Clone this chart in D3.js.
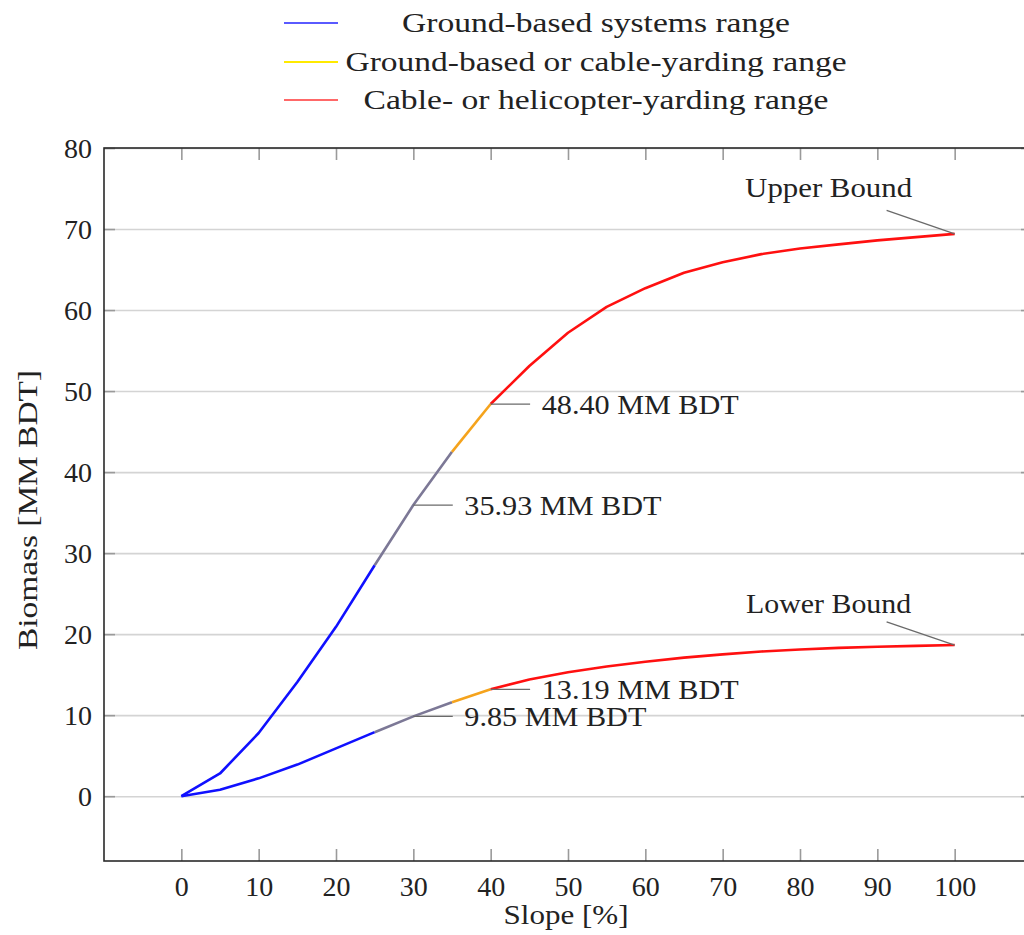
<!DOCTYPE html>
<html>
<head>
<meta charset="utf-8">
<script src="https://cdn.jsdelivr.net/npm/d3@7"></script>
<style>
  html, body { margin: 0; padding: 0; background: #fff; }
  svg { display: block; }
  svg text { font-family: "Liberation Serif", "Times New Roman", Tinos, "DejaVu Serif", "Noto Serif", serif !important; fill: #222; }
</style>
</head>
<body>
<svg id="chart" width="1024" height="935"></svg>
<script>
// ---------------- data ----------------
const slope = [0, 5, 10, 15, 20, 25, 30, 35, 40, 45, 50, 55, 60, 65, 70, 75, 80, 85, 90, 95, 100];
const upperBiomass = [0, 2.8, 7.8, 14.1, 20.9, 28.5, 35.93, 42.5, 48.40, 53.1, 57.2, 60.4, 62.7, 64.6, 65.9, 66.9, 67.6, 68.1, 68.6, 69.0, 69.4];
const lowerBiomass = [0, 0.8, 2.2, 3.9, 5.9, 7.9, 9.85, 11.6, 13.19, 14.4, 15.3, 16.0, 16.6, 17.1, 17.5, 17.85, 18.1, 18.3, 18.45, 18.55, 18.65];
const rangeBreaks = [0, 25, 35, 40, 100];           // slope boundaries of colored segments
const legendLabels = ["Ground-based systems range", "Ground-based or cable-yarding range", "Cable- or helicopter-yarding range"];
const annotatedSlopes = [30, 40];
const boundLabels = ["Upper Bound", "Lower Bound"];
const xTicks = [0, 10, 20, 30, 40, 50, 60, 70, 80, 90, 100];
const yTicks = [0, 10, 20, 30, 40, 50, 60, 70, 80];
const xLabel = "Slope [%]";
const yLabel = "Biomass [MM BDT]";

// ---------------- layout ----------------
const svg = d3.select("#chart");
const pLeft = 104, pTop = 148, pRight = 1032, pBottom = 861;
const x = d3.scaleLinear().domain([-10, 110]).range([pLeft, pRight]);
const y = d3.scaleLinear().domain([-8, 80]).range([pBottom, pTop]);
const FS = 28;

const segColors = ["#1010ff", "#7c7896", "#f5a31c", "#ff1010"];
const legendColors = ["#5a5aff", "#ffea00", "#ff6868"];

// grid
svg.append("g")
  .attr("transform", `translate(${pLeft},0)`)
  .call(d3.axisLeft(y).tickValues(yTicks).tickSize(-(pRight - pLeft)).tickFormat(""))
  .call(g => g.select(".domain").remove())
  .call(g => g.selectAll("line").attr("stroke", "#d4d4d4").attr("stroke-width", 1.6));

// ticks: left (with labels)
svg.append("g")
  .attr("transform", `translate(${pLeft},0)`)
  .attr("font-family", null)
  .call(d3.axisLeft(y).tickValues(yTicks).tickSize(-11).tickPadding(12).tickFormat(d3.format("d")))
  .call(g => g.select(".domain").remove())
  .call(g => g.selectAll("line").attr("stroke", "#9a9a9a").attr("stroke-width", 1.6))
  .call(g => g.selectAll("text").attr("font-size", FS).attr("fill", "#222").attr("dy", "0.34em"));

// right ticks
svg.append("g")
  .attr("transform", `translate(${pRight},0)`)
  .call(d3.axisRight(y).tickValues(yTicks).tickSize(-11).tickFormat(""))
  .call(g => g.select(".domain").remove())
  .call(g => g.selectAll("line").attr("stroke", "#9a9a9a").attr("stroke-width", 1.6));

// bottom ticks with labels
svg.append("g")
  .attr("transform", `translate(0,${pBottom})`)
  .call(d3.axisBottom(x).tickValues(xTicks).tickSize(-12).tickPadding(15).tickFormat(d3.format("d")))
  .call(g => g.select(".domain").remove())
  .call(g => g.selectAll("line").attr("stroke", "#9a9a9a").attr("stroke-width", 1.6))
  .call(g => g.selectAll("text").attr("font-size", FS).attr("fill", "#222"));

// top ticks
svg.append("g")
  .attr("transform", `translate(0,${pTop})`)
  .call(d3.axisTop(x).tickValues(xTicks).tickSize(-12).tickFormat(""))
  .call(g => g.select(".domain").remove())
  .call(g => g.selectAll("line").attr("stroke", "#9a9a9a").attr("stroke-width", 1.6));

// frame
svg.append("rect")
  .attr("x", pLeft).attr("y", pTop).attr("width", pRight - pLeft).attr("height", pBottom - pTop)
  .attr("fill", "none").attr("stroke", "#2a2a2a").attr("stroke-width", 1.6);

// axis labels
svg.append("text").attr("x", 566).attr("y", 924)
  .attr("text-anchor", "middle").attr("font-size", FS)
  .attr("textLength", 125).attr("lengthAdjust", "spacingAndGlyphs").text(xLabel);
svg.append("text")
  .attr("transform", `translate(37,510) rotate(-90)`)
  .attr("text-anchor", "middle").attr("font-size", FS)
  .attr("textLength", 280).attr("lengthAdjust", "spacingAndGlyphs").text(yLabel);

// ---------------- curves ----------------
const line = d3.line().x(d => x(d[0])).y(d => y(d[1]));
const curves = [upperBiomass, lowerBiomass];
const plot = svg.append("g");
curves.forEach(vals => {
  const pts = slope.map((s, i) => [s, vals[i]]);
  for (let k = 0; k < rangeBreaks.length - 1; k++) {
    const a = rangeBreaks[k], b = rangeBreaks[k + 1];
    const seg = pts.filter(p => p[0] >= a && p[0] <= b);
    plot.append("path").datum(seg)
      .attr("d", line)
      .attr("fill", "none")
      .attr("stroke", segColors[k])
      .attr("stroke-width", 2.6)
      .attr("stroke-linejoin", "round")
      .attr("stroke-linecap", "butt");
  }
});

// ---------------- annotations ----------------
const fmt = d3.format(".2f");
curves.forEach((vals, ci) => {
  annotatedSlopes.forEach((s, ai) => {
    const v = vals[slope.indexOf(s)];
    const px = x(s), py = y(v);
    svg.append("line")
      .attr("x1", px).attr("y1", py).attr("x2", x(s + 5.1)).attr("y2", py)
      .attr("stroke", "#6a6a6a").attr("stroke-width", 1.3);
    svg.append("text")
      .attr("x", x(s + 6.6)).attr("y", py).attr("dy", "0.36em")
      .attr("font-size", FS)
      .attr("textLength", ci === 1 && ai === 0 ? 182 : 197).attr("lengthAdjust", "spacingAndGlyphs")
      .text(`${fmt(v)} MM BDT`);
  });
});

// bound labels
const endIdx = slope.length - 1;
const boundOffsets = [[72.3, 75.2], [21.5, 23.8]];
curves.forEach((vals, ci) => {
  const ex = x(slope[endIdx]), ey = y(vals[endIdx]);
  svg.append("line")
    .attr("x1", x(91.2)).attr("y1", y(boundOffsets[ci][0]))
    .attr("x2", ex).attr("y2", ey)
    .attr("stroke", "#6a6a6a").attr("stroke-width", 1.3);
  svg.append("text")
    .attr("x", x(83.7)).attr("y", y(boundOffsets[ci][1])).attr("dy", "0.36em")
    .attr("text-anchor", "middle").attr("font-size", FS)
    .attr("textLength", ci === 0 ? 167 : 165).attr("lengthAdjust", "spacingAndGlyphs")
    .text(boundLabels[ci]);
});

// ---------------- legend ----------------
const legendY = [23, 62, 100];
const legendLen = [388, 501, 465];
legendLabels.forEach((lab, i) => {
  svg.append("line")
    .attr("x1", 284).attr("x2", 338).attr("y1", legendY[i]).attr("y2", legendY[i])
    .attr("stroke", legendColors[i]).attr("stroke-width", 1.8);
  svg.append("text")
    .attr("x", 596).attr("y", legendY[i]).attr("dy", "0.33em")
    .attr("text-anchor", "middle").attr("font-size", FS)
    .attr("textLength", legendLen[i]).attr("lengthAdjust", "spacingAndGlyphs")
    .text(lab);
});
</script>
</body>
</html>
